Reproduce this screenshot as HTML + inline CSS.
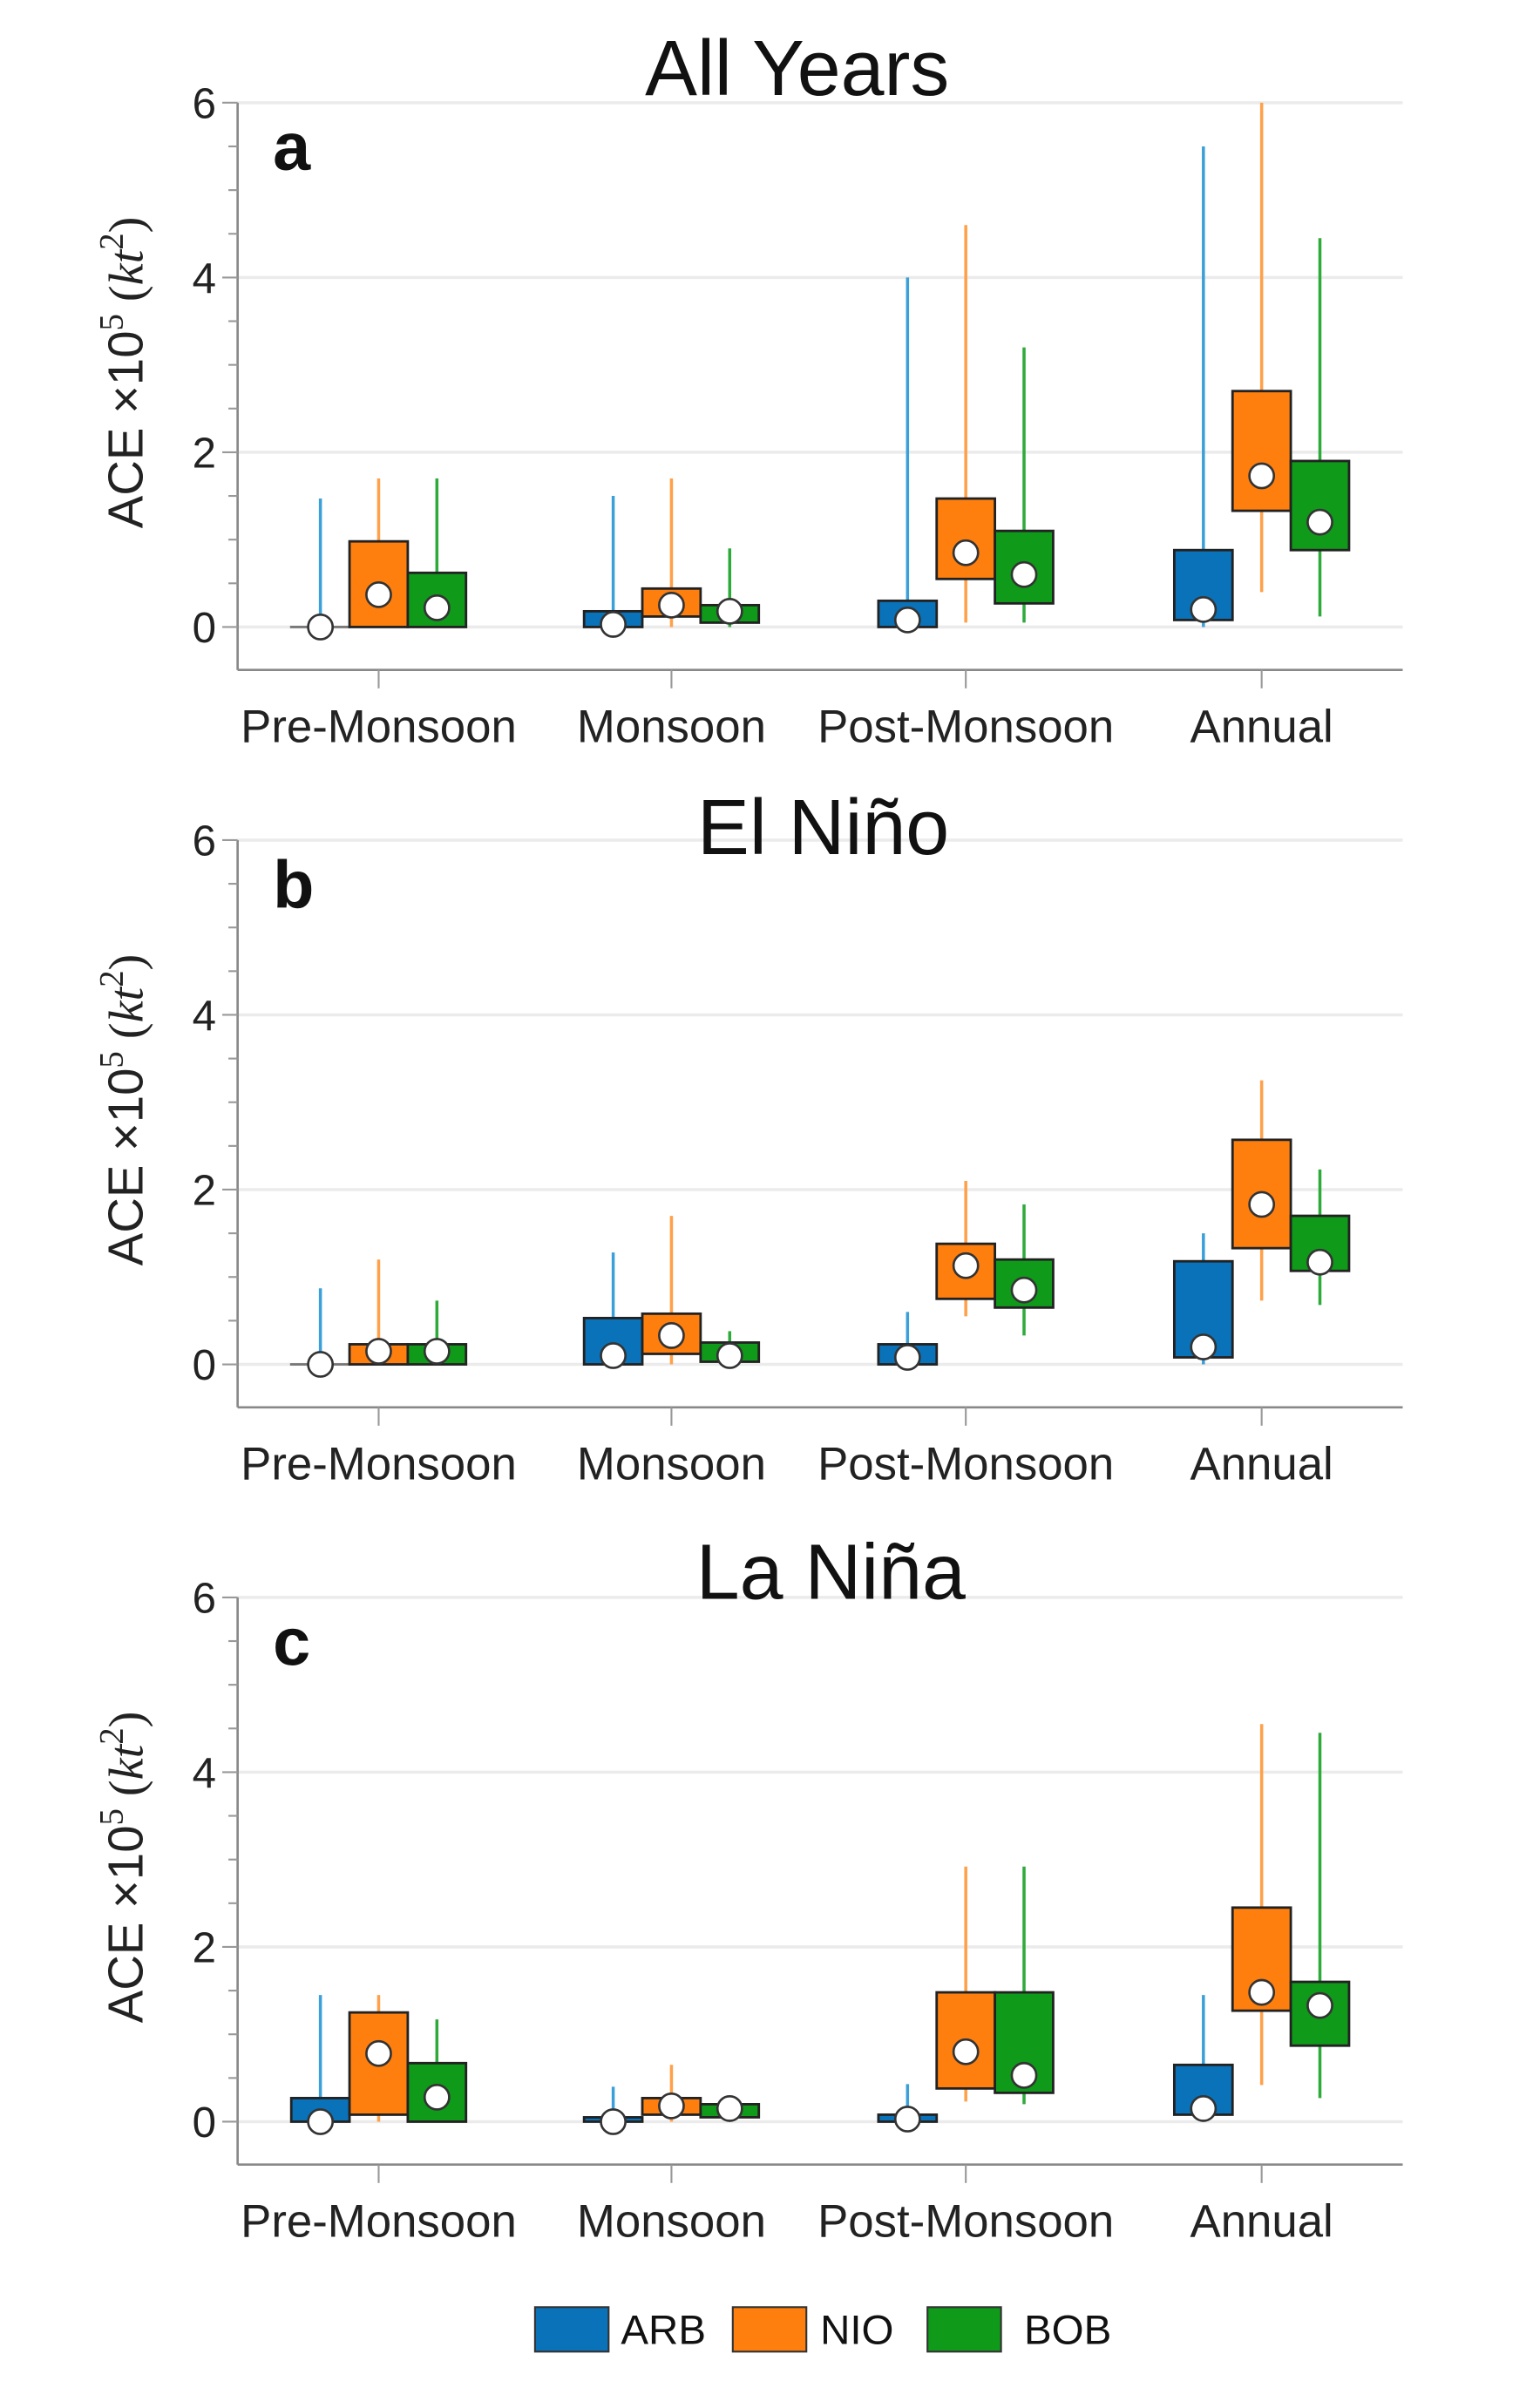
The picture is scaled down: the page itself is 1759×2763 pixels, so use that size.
<!DOCTYPE html>
<html><head><meta charset="utf-8"><style>html,body{margin:0;padding:0;background:#fff}svg{display:block}</style></head>
<body>
<svg id="chart" xmlns="http://www.w3.org/2000/svg" width="1759" height="2763" viewBox="0 0 1000 1570.77" font-family="'Liberation Sans', sans-serif"></svg>
<script>
const categories = ["Pre-Monsoon","Monsoon","Post-Monsoon","Annual"];
const seriesNames = ["ARB","NIO","BOB"];
const panelTitles = ["All Years","El Niño","La Niña"];
const panelLetters = ["a","b","c"];
const yTicks = [0,2,4,6];
// each: [whiskerLow, q1, median, q3, whiskerHigh] per category per series
const allYearsARB = [[0,0,0,0,1.47],[0,0,0.03,0.18,1.5],[0,0,0.08,0.3,4.0],[0,0.08,0.2,0.88,5.5]];
const allYearsNIO = [[0,0,0.37,0.98,1.7],[0,0.12,0.25,0.44,1.7],[0.05,0.55,0.85,1.47,4.6],[0.4,1.33,1.73,2.7,6.0]];
const allYearsBOB = [[0,0,0.22,0.62,1.7],[0,0.05,0.18,0.25,0.9],[0.05,0.27,0.6,1.1,3.2],[0.12,0.88,1.2,1.9,4.45]];
const elNinoARB = [[0,0,0,0,0.87],[0,0,0.1,0.53,1.28],[0,0,0.08,0.23,0.6],[0,0.08,0.2,1.18,1.5]];
const elNinoNIO = [[0,0,0.15,0.23,1.2],[0,0.12,0.33,0.58,1.7],[0.55,0.75,1.13,1.38,2.1],[0.73,1.33,1.83,2.57,3.25]];
const elNinoBOB = [[0,0,0.15,0.23,0.73],[0,0.03,0.1,0.25,0.38],[0.33,0.65,0.85,1.2,1.83],[0.68,1.07,1.17,1.7,2.23]];
const laNinaARB = [[0,0,0,0.27,1.45],[0,0,0,0.05,0.4],[0,0,0.03,0.08,0.43],[0,0.08,0.15,0.65,1.45]];
const laNinaNIO = [[0,0.08,0.78,1.25,1.45],[0,0.08,0.18,0.27,0.65],[0.23,0.38,0.8,1.48,2.92],[0.42,1.27,1.48,2.45,4.55]];
const laNinaBOB = [[0,0,0.28,0.67,1.17],[0,0.05,0.15,0.2,0.3],[0.2,0.33,0.53,1.48,2.92],[0.27,0.87,1.33,1.6,4.45]];

const panels = [[allYearsARB,allYearsNIO,allYearsBOB],[elNinoARB,elNinoNIO,elNinoBOB],[laNinaARB,laNinaNIO,laNinaBOB]];
const fills = ["#0a72b8","#ff7f0e","#0f9a1a"];
const whisk = ["#3b9fd8","#ffa04a","#2eaa3a"];
const svg = document.getElementById('chart');
const NS = "http://www.w3.org/2000/svg";
function mk(tag, attrs, parent, text){const e=document.createElementNS(NS,tag);for(const k in attrs)e.setAttribute(k,attrs[k]);if(text!==undefined)e.textContent=text;(parent||svg).appendChild(e);return e;}

const panelTop = [67,548,1042]; // y of value 6
const unit = 57; // px per unit
const xLeft=155, xRight=915;
const catX = [247,438,630,823];
const offs = [-38,0,38];
const bw = 38;

panels.forEach((pd,pi)=>{
  const g = mk('g',{});
  
  
  const y0 = panelTop[pi]+6*unit;
  const yS = v=> y0 - v*unit;
  const axBottom = y0+28;
  yTicks.forEach(t=>{ mk('line',{x1:xLeft,x2:xRight,y1:yS(t),y2:yS(t),stroke:'#ebebeb','stroke-width':2},g); });
  const ya = mk('line',{x1:xLeft,x2:xLeft,y1:yS(6),y2:axBottom,stroke:'#888','stroke-width':1.5},g);
  
  
  const xa = mk('line',{x1:xLeft,x2:xRight,y1:axBottom,y2:axBottom,stroke:'#888','stroke-width':1.5},g);
  
  
  for(let v=0; v<=6.001; v+=0.5){ const len = (v%2===0)?10:6; mk('line',{x1:xLeft-len,x2:xLeft,y1:yS(v),y2:yS(v),stroke:'#999','stroke-width':1.2},g); }
  yTicks.forEach(t=>{
    const tl = mk('text',{x:xLeft-14,y:yS(t)+10,'text-anchor':'end','font-size':28,fill:'#222'},g,String(t));
    
    
  });
  categories.forEach((c,ci)=>{
    mk('line',{x1:catX[ci],x2:catX[ci],y1:axBottom,y2:axBottom+12,stroke:'#999','stroke-width':1.2},g);
    const cl = mk('text',{x:catX[ci],y:axBottom+47,'text-anchor':'middle','font-size':30,fill:'#222'},g,c);
    
    
  });
  const yl = mk('text',{transform:`translate(93 ${yS(3)+5}) rotate(-90)`,'text-anchor':'middle','font-size':32,fill:'#222'},g);
  
  
  yl.innerHTML = 'ACE ×10<tspan dy="-13" font-size="22" font-family="\'Liberation Serif\', serif">5</tspan><tspan dy="13" font-family="\'Liberation Serif\', serif"> (<tspan font-style="italic">kt</tspan></tspan><tspan dy="-13" font-size="22" font-family="\'Liberation Serif\', serif">2</tspan><tspan dy="13" font-family="\'Liberation Serif\', serif">)</tspan>';
  const tt = mk('text',{x:[520,537,542][pi],y:[62,557,1043][pi],'text-anchor':'middle','font-size':51,fill:'#111'},g,panelTitles[pi]);
  
  
  const pl = mk('text',{x:178,y:yS(6)+44,'font-size':44,'font-weight':'bold',fill:'#111'},g,panelLetters[pi]);
  
  
  pd.forEach((series,si)=>{
    series.forEach((d,ci)=>{
      const cx = catX[ci]+offs[si];
      const w = mk('line',{x1:cx,x2:cx,y1:yS(d[0]),y2:yS(d[4]),stroke:whisk[si],'stroke-width':2},g);
      
      
      const h = Math.max(0.001,(d[3]-d[1])*unit);
      const b = mk('rect',{x:cx-bw/2,y:yS(d[3]),width:bw,height:h,fill:fills[si],stroke:(d[3]-d[1])>0?'#222':'#777','stroke-width':1.6},g);
      
      
      const m = mk('circle',{cx:cx,cy:yS(d[2]),r:8,fill:'#fff',stroke:'#333','stroke-width':1.5},g);
      
      
    });
  });
});
const lg = mk('g',{});


const legX = [349,478,605], legTX=[405,535,668];
seriesNames.forEach((n,i)=>{
  const r = mk('rect',{x:legX[i],y:1505,width:48,height:29,fill:fills[i],stroke:'#333','stroke-width':1.2},lg);
  
  
  const t = mk('text',{x:legTX[i],y:1529,'font-size':27,fill:'#111'},lg,n);
  
  
});
</script>
</body></html>
